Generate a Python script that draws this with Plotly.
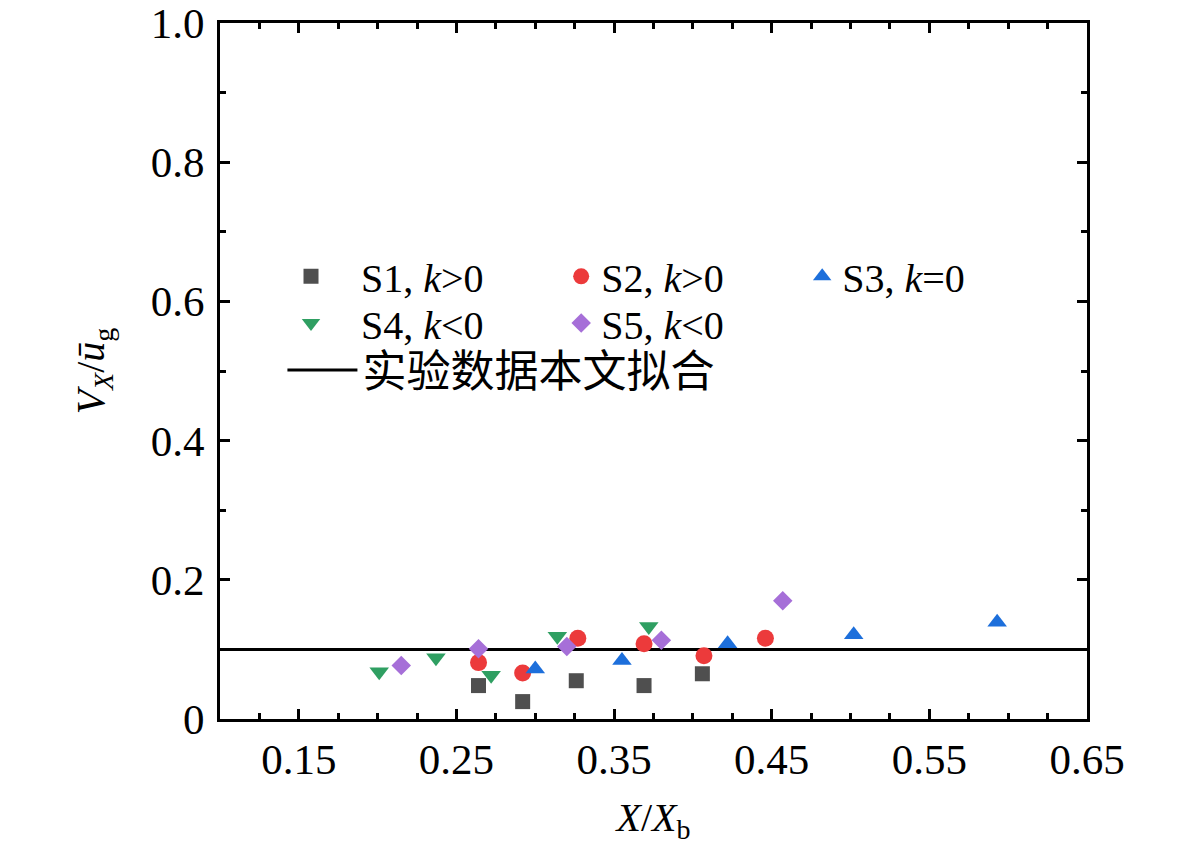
#!/usr/bin/env python3
"""
Scatter of V_X / u_g against X / X_b for five cases, with the fitted constant line.
"""

import plotly.graph_objects as go

# S1, k>0
s1_x = [0.264, 0.292, 0.326, 0.369, 0.406]
s1_y = [0.048, 0.025, 0.055, 0.048, 0.065]
# S2, k>0
s2_x = [0.264, 0.292, 0.327, 0.369, 0.407, 0.446]
s2_y = [0.081, 0.066, 0.116, 0.108, 0.091, 0.116]
# S3, k=0
s3_x = [0.300, 0.355, 0.422, 0.502, 0.593]
s3_y = [0.072, 0.084, 0.108, 0.121, 0.139]
# S4, k<0
s4_x = [0.201, 0.237, 0.272, 0.314, 0.372]
s4_y = [0.068, 0.088, 0.063, 0.119, 0.133]
# S5, k<0
s5_x = [0.215, 0.264, 0.320, 0.380, 0.457]
s5_y = [0.077, 0.101, 0.104, 0.113, 0.170]
# fitted line
fit_x = [0.1, 0.65]
fit_y = [0.1, 0.1]

x_ticks = [0.15, 0.25, 0.35, 0.45, 0.55, 0.65]
x_labels = ["0.15", "0.25", "0.35", "0.45", "0.55", "0.65"]
y_ticks = [0, 0.2, 0.4, 0.6, 0.8, 1.0]
y_labels = ["0", "0.2", "0.4", "0.6", "0.8", "1.0"]

FONT = "Liberation Serif, Times New Roman, Noto Sans CJK SC, serif"
PAD = "\u00a0\u00a0\u00a0"  # first column has a wider gap between key and text

series = [
    (s1_x, s1_y, PAD + "S1, <i>k</i>&gt;0", "square", "#4f4f4f", 15, "legend"),
    (s2_x, s2_y, "S2, <i>k</i>&gt;0", "circle", "#ec3a3b", 17, "legend2"),
    (s3_x, s3_y, "S3, <i>k</i>=0", "triangle-up", "#1d6fdb", 17, "legend3"),
    (s4_x, s4_y, PAD + "S4, <i>k</i>&lt;0", "triangle-down", "#2f9f62", 17, "legend4"),
    (s5_x, s5_y, "S5, <i>k</i>&lt;0", "diamond", "#a66fd8", 15, "legend5"),
]

fig = go.Figure()

fig.add_trace(go.Scatter(
    x=fit_x, y=fit_y, mode="lines",
    line=dict(color="black", width=3),
    name="实验数据本文拟合", legend="legend6",
))

for xs, ys, name, symbol, color, size, leg in series:
    fig.add_trace(go.Scatter(
        x=xs, y=ys, mode="markers",
        marker=dict(symbol=symbol, color=color, size=size, line=dict(width=0)),
        name=name, legend=leg,
    ))

axis_common = dict(
    showline=True, linecolor="black", linewidth=3, mirror="ticks",
    ticks="inside", ticklen=10, tickwidth=3, tickcolor="black",
    showgrid=False, zeroline=False, automargin=False,
    ticklabeloverflow="allow",
    tickfont=dict(family=FONT, size=43, color="black"),
)

fig.update_xaxes(
    range=[0.1, 0.65], tickvals=x_ticks, ticktext=x_labels,
    minor=dict(tick0=0.1, dtick=0.025, ticks="inside", ticklen=6, tickwidth=3, tickcolor="black"),
    title=dict(text="<i>X</i>/<i>X</i><sub>b</sub>", font=dict(family=FONT, size=40, color="black"), standoff=22),
    ticklabelstandoff=0,
    **axis_common,
)
fig.update_yaxes(
    range=[0, 1.0], tickvals=y_ticks, ticktext=y_labels,
    minor=dict(tick0=0, dtick=0.1, ticks="inside", ticklen=6, tickwidth=3, tickcolor="black"),
    title=dict(text="<i>V</i><sub><i>X</i></sub>/<i>u\u0304</i><sub>g</sub>", font=dict(family=FONT, size=40, color="black"), standoff=34),
    ticklabelstandoff=4,
    **axis_common,
)


# one legend per key so each sits where the original puts it
def leg(x, y, size=40, itemwidth=30):
    return dict(
        x=x, y=y, xanchor="left", yanchor="middle",
        bgcolor="rgba(0,0,0,0)", borderwidth=0,
        font=dict(family=FONT, size=size, color="black"),
        itemwidth=itemwidth,
    )


# the page body adds an 8px offset, so margins are shifted to compensate
fig.update_layout(
    width=1181, height=849, autosize=False,
    margin=dict(l=212, r=102, t=15, b=138),
    plot_bgcolor="white", paper_bgcolor="white",
    showlegend=True,
    legend=leg(0.0819, 0.636),
    legend2=leg(0.3935, 0.636),
    legend3=leg(0.6715, 0.636),
    legend4=leg(0.0819, 0.569),
    legend5=leg(0.3935, 0.569),
    legend6=leg(0.072, 0.501, size=44, itemwidth=70),
)

fig.write_html("out.html")
